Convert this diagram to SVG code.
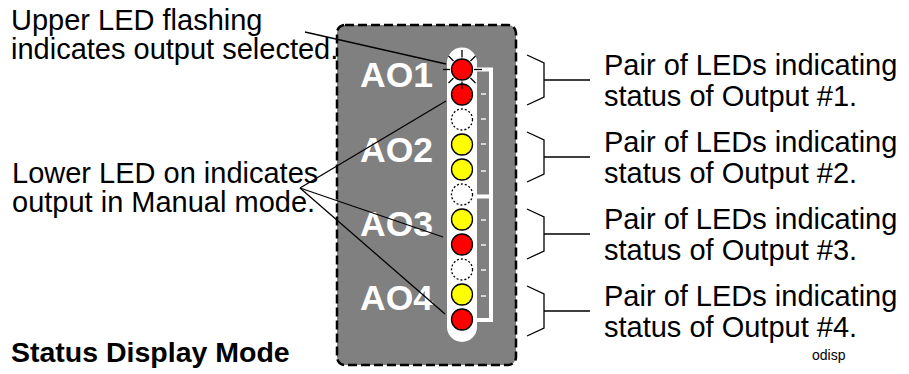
<svg xmlns="http://www.w3.org/2000/svg" width="909" height="374" viewBox="0 0 909 374">
<style>
.t{font-family:"Liberation Sans",Arial,sans-serif;font-size:29px;fill:#000}
.ao{font-family:"Liberation Sans",Arial,sans-serif;font-size:35.5px;font-weight:bold;fill:#fff}
.led{stroke:#000;stroke-width:1.3}
.red{fill:#ff0000}
.yel{fill:#ffff00}
.off{fill:#fff;stroke:#000;stroke-width:1.3;stroke-dasharray:2 2}
.ln{stroke:#000;stroke-width:1.3;fill:none}
.tick{stroke:#e0e0e0;stroke-width:1.8}
</style>
<rect width="909" height="374" fill="#fff"/>
<g id="panel">
<rect x="337" y="25" width="179" height="340" rx="8" fill="#808080" stroke="#000" stroke-width="2.5" stroke-dasharray="9 4"/>
<rect x="447" y="47.5" width="30" height="294.5" rx="15" fill="#fff"/>
<path d="M477 69.5 H491 V320 H477 M477 196.5 H491" stroke="#fff" stroke-width="4" fill="none"/>
<g class="tick">
<line x1="481" y1="94" x2="486" y2="94"/><line x1="481" y1="119" x2="486" y2="119"/>
<line x1="481" y1="144" x2="486" y2="144"/><line x1="481" y1="171" x2="486" y2="171"/>
<line x1="481" y1="220" x2="486" y2="220"/><line x1="481" y1="245" x2="486" y2="245"/>
<line x1="481" y1="270" x2="486" y2="270"/><line x1="481" y1="296" x2="486" y2="296"/>
</g>
<text class="ao" x="360" y="87">AO1</text>
<text class="ao" x="360" y="162">AO2</text>
<text class="ao" x="360" y="236">AO3</text>
<text class="ao" x="360" y="310">AO4</text>
</g>
<g id="leds">
<circle class="led red" cx="462" cy="94.5" r="10.5"/>
<circle class="led red" cx="462" cy="69.5" r="10.5"/>
<g class="ln">
<line x1="462" y1="57.5" x2="462" y2="50"/>
<line x1="462" y1="81.5" x2="462" y2="89"/>
<line x1="450" y1="69.5" x2="443" y2="69.5"/>
<line x1="474" y1="69.5" x2="482" y2="69.5"/>
<line x1="453.5" y1="61" x2="448.5" y2="56"/>
<line x1="470.5" y1="61" x2="475.5" y2="56"/>
<line x1="453.5" y1="78" x2="448.5" y2="83"/>
<line x1="470.5" y1="78" x2="475.5" y2="83"/>
</g>
<circle class="off" cx="462" cy="119.5" r="10.5"/>
<circle class="led yel" cx="462" cy="144.5" r="10.5"/>
<circle class="led yel" cx="462" cy="169.5" r="10.5"/>
<circle class="off" cx="462" cy="194.5" r="10.5"/>
<circle class="led yel" cx="462" cy="219.5" r="10.5"/>
<circle class="led red" cx="462" cy="244.5" r="10.5"/>
<circle class="off" cx="462" cy="269.5" r="10.5"/>
<circle class="led yel" cx="462" cy="294.5" r="10.5"/>
<circle class="led red" cx="462" cy="319.5" r="10.5"/>
</g>
<g id="connectors" class="ln">
<line x1="305" y1="32" x2="446" y2="64"/>
<line x1="300" y1="188" x2="446" y2="101"/>
<line x1="300" y1="188" x2="443" y2="237"/>
<line x1="300" y1="188" x2="445" y2="314"/>
<path d="M527 55 L544 63 V97 L527 105 M544 80 H590"/>
<path d="M527 132 L544 140 V174 L527 182 M544 157 H590"/>
<path d="M527 209 L544 217 V251 L527 259 M544 234 H590"/>
<path d="M527 286 L544 294 V328 L527 336 M544 311 H590"/>
</g>
<g id="label-upper"><text class="t" x="11" y="30">Upper LED flashing</text><text class="t" x="11" y="59">indicates output selected.</text></g>
<g id="label-lower"><text class="t" x="12" y="183">Lower LED on indicates</text><text class="t" x="12" y="212">output in Manual mode.</text></g>
<g id="label-o1"><text class="t" x="604" y="75">Pair of LEDs indicating</text><text class="t" x="604" y="106">status of Output #1.</text></g>
<g id="label-o2"><text class="t" x="604" y="152">Pair of LEDs indicating</text><text class="t" x="604" y="183">status of Output #2.</text></g>
<g id="label-o3"><text class="t" x="604" y="229">Pair of LEDs indicating</text><text class="t" x="604" y="260">status of Output #3.</text></g>
<g id="label-o4"><text class="t" x="604" y="306">Pair of LEDs indicating</text><text class="t" x="604" y="337">status of Output #4.</text></g>
<g id="title"><text class="t" x="11" y="362" font-weight="bold" style="font-size:28.5px">Status Display Mode</text></g>
<g id="tag"><text x="812" y="360" style="font-family:'Liberation Sans Narrow','Liberation Sans',sans-serif;font-size:14px">odisp</text></g>
</svg>
